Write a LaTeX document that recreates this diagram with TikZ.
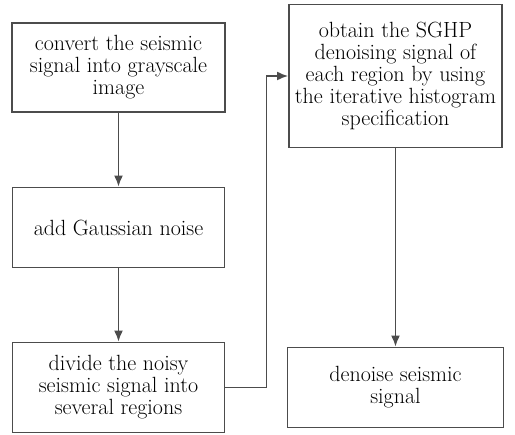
\documentclass[tikz,border=0pt]{standalone}
\usetikzlibrary{positioning,arrows.meta}

\tikzset{
  stepbox/.style={draw=black!70, line width=1.8pt, fill=white, align=center,
    font=\fontsize{22}{22}\selectfont, text=black, inner sep=2pt},
  flow/.style={draw=black!70, line width=1.8pt, -{Latex[length=11pt,width=9pt]}}
}

\begin{document}
\begin{tikzpicture}[node distance=160pt,on grid]
      \useasboundingbox (0,0) rectangle (515pt,-435pt);
      \node[stepbox,minimum width=213pt,minimum height=89pt]  (conv) at (118.5pt,-67.5pt)
            {convert the seismic\\signal into grayscale\\image};
      \node[stepbox,minimum width=212pt,minimum height=80pt]  (noise) [below=of conv]
            {add Gaussian noise};
      \node[stepbox,minimum width=212pt,minimum height=90pt]  (divide) [below=of noise]
            {divide the noisy\\seismic signal into\\several regions};
      \node[stepbox,minimum width=216pt,minimum height=80pt]  (denoise) [right=277pt of divide]
            {denoise seismic\\signal};
      \node[stepbox,minimum width=213pt,minimum height=143pt] (sghp) [above=311.5pt of denoise]
            {obtain the SGHP\\denoising signal of\\each region by using\\the iterative histogram\\specification};

      \draw[flow] (conv) -- (noise);
      \draw[flow] (noise) -- (divide);
      \draw[flow] (divide.east) -- ++(41pt,0) |- (sghp.west);
      \draw[flow] (sghp) -- (denoise);
    \end{tikzpicture}
\end{document}
